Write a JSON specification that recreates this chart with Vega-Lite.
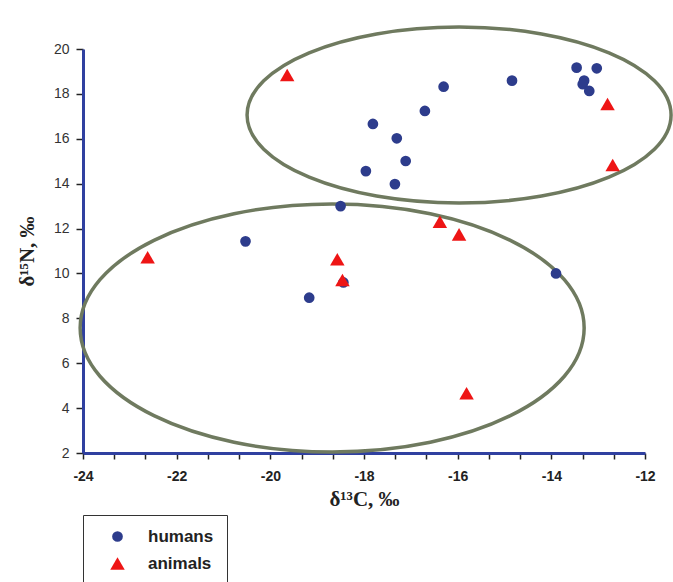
{
  "$schema": "https://vega.github.io/schema/vega-lite/v6.json",
  "width": 562,
  "height": 404,
  "autosize": {"type": "none"},
  "padding": {"left": 83, "top": 49, "right": 28, "bottom": 129},
  "background": "white",
  "config": {
    "view": {"stroke": null},
    "font": "Liberation Sans",
    "axis": {"labelOverlap": false, "labelFlush": false, "grid": false}
  },
  "encoding": {
    "x": {
      "field": "d13C",
      "type": "quantitative",
      "scale": {"domain": [-24, -12], "nice": false, "zero": false},
      "axis": {
        "values": [-24, -23.333, -22.667, -22, -21.333, -20.667, -20, -19.333, -18.667, -18, -17.333, -16.667, -16, -15.333, -14.667, -14, -13.333, -12.667, -12],
        "labelExpr": "abs(datum.value) % 2 == 0 ? '-' + abs(datum.value) : ''",
        "labelOverlap": false,
        "labelFlush": false,
        "grid": false,
        "domainColor": "#3040a0",
        "domainWidth": 3,
        "tickColor": "#222222",
        "tickWidth": 1.5,
        "tickSize": 6,
        "labelFont": "Liberation Sans",
        "labelFontSize": 14,
        "labelFontWeight": "bold",
        "labelColor": "#222222",
        "labelPadding": 10,
        "title": "δ¹³C, ‰",
        "titleFont": "Liberation Serif",
        "titleFontSize": 21,
        "titleFontWeight": "bold",
        "titleColor": "#222222",
        "titlePadding": 5
      }
    },
    "y": {
      "field": "d15N",
      "type": "quantitative",
      "scale": {"domain": [2, 20], "nice": false, "zero": false},
      "axis": {
        "values": [2, 4, 6, 8, 10, 12, 14, 16, 18, 20],
        "grid": false,
        "domainColor": "#3040a0",
        "domainWidth": 3,
        "tickColor": "#222222",
        "tickWidth": 1.5,
        "tickSize": 7,
        "labelFont": "Liberation Sans",
        "labelFontSize": 14,
        "labelColor": "#333333",
        "labelPadding": 7,
        "title": "δ¹⁵N, ‰",
        "titleFont": "Liberation Serif",
        "titleFontSize": 21,
        "titleFontWeight": "bold",
        "titleColor": "#222222",
        "titlePadding": 16
      }
    }
  },
  "layer": [
    {
      "data": {"values": [{"d13C": -15.97, "d15N": 17.06}]},
      "mark": {
        "type": "point",
        "shape": "M -1 0 A 1 0.415 0 1 0 1 0 A 1 0.415 0 1 0 -1 0 Z",
        "size": 179776,
        "filled": false,
        "stroke": "#6f7a5f",
        "strokeWidth": 3.5,
        "opacity": 1
      }
    },
    {
      "data": {"values": [{"d13C": -18.68, "d15N": 7.57}]},
      "mark": {
        "type": "point",
        "shape": "M -1 0 A 1 0.492 0 1 0 1 0 A 1 0.492 0 1 0 -1 0 Z",
        "size": 254016,
        "filled": false,
        "stroke": "#6f7a5f",
        "strokeWidth": 3.5,
        "opacity": 1
      }
    },
    {
      "data": {
        "values": [
          {"group": "humans", "d13C": -13.46, "d15N": 19.17},
          {"group": "humans", "d13C": -13.03, "d15N": 19.14},
          {"group": "humans", "d13C": -13.30, "d15N": 18.59},
          {"group": "humans", "d13C": -13.33, "d15N": 18.43},
          {"group": "humans", "d13C": -13.19, "d15N": 18.13},
          {"group": "humans", "d13C": -14.84, "d15N": 18.59},
          {"group": "humans", "d13C": -16.30, "d15N": 18.32},
          {"group": "humans", "d13C": -16.70, "d15N": 17.24},
          {"group": "humans", "d13C": -17.81, "d15N": 16.66},
          {"group": "humans", "d13C": -17.30, "d15N": 16.02},
          {"group": "humans", "d13C": -17.11, "d15N": 15.01},
          {"group": "humans", "d13C": -17.96, "d15N": 14.56},
          {"group": "humans", "d13C": -17.34, "d15N": 13.98},
          {"group": "humans", "d13C": -18.50, "d15N": 13.0},
          {"group": "humans", "d13C": -20.53, "d15N": 11.43},
          {"group": "humans", "d13C": -19.17, "d15N": 8.92},
          {"group": "humans", "d13C": -18.44, "d15N": 9.60},
          {"group": "humans", "d13C": -13.90, "d15N": 10.0},
          {"group": "animals", "d13C": -22.62, "d15N": 10.72},
          {"group": "animals", "d13C": -18.57, "d15N": 10.63},
          {"group": "animals", "d13C": -18.46, "d15N": 9.71},
          {"group": "animals", "d13C": -16.38, "d15N": 12.30},
          {"group": "animals", "d13C": -15.97, "d15N": 11.74},
          {"group": "animals", "d13C": -15.81, "d15N": 4.66},
          {"group": "animals", "d13C": -19.64, "d15N": 18.84},
          {"group": "animals", "d13C": -12.80, "d15N": 17.55},
          {"group": "animals", "d13C": -12.69, "d15N": 14.83}
        ]
      },
      "mark": {"type": "point", "filled": true, "opacity": 1},
      "encoding": {
        "color": {
          "field": "group",
          "type": "nominal",
          "scale": {"domain": ["humans", "animals"], "range": ["#2d3c8c", "#ee1515"]},
          "legend": {
            "title": null,
            "orient": "none",
            "legendX": 0,
            "legendY": 466,
            "strokeColor": "#333333",
            "fillColor": "white",
            "padding": 13,
            "rowPadding": 9,
            "symbolOffset": 13,
            "labelOffset": 22,
            "labelFont": "Liberation Sans",
            "labelFontSize": 17,
            "labelFontWeight": "bold",
            "labelColor": "#222222"
          }
        },
        "shape": {
          "field": "group",
          "type": "nominal",
          "scale": {"domain": ["humans", "animals"], "range": ["circle", "triangle-up"]}
        },
        "size": {
          "field": "group",
          "type": "nominal",
          "scale": {"domain": ["humans", "animals"], "range": [115, 210]}
        },
        "order": {"field": "group", "sort": "descending"}
      }
    }
  ]
}
